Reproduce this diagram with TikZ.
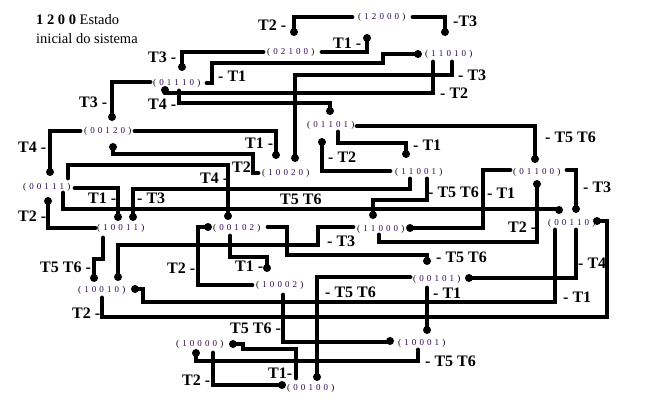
\documentclass[tikz,border=0pt]{standalone}
\usepackage{fontspec}
\setmainfont{Liberation Serif}
\definecolor{stc}{RGB}{45,10,85}
\newcommand{\stt}[5]{{\fontsize{9}{9}\selectfont (\hspace{3.1pt}\textcolor{stc}{#1}\hspace{3.1pt}\textcolor{stc}{#2}\hspace{3.1pt}\textcolor{stc}{#3}\hspace{3.1pt}\textcolor{stc}{#4}\hspace{3.1pt}\textcolor{stc}{#5}\hspace{3.1pt})}}
\begin{document}
\begin{tikzpicture}[x=1pt,y=-1pt,
  lab/.style={anchor=west,inner sep=0pt,font=\bfseries\fontsize{16}{16}\selectfont},
  st/.style={anchor=west,inner sep=0pt},
  ln/.style={line width=4.8pt,line cap=round,line join=miter},
  dt/.style={fill=black}]
\useasboundingbox (0,0) rectangle (656,414);
\fill[white] (0,0) rectangle (656,414);
% header
\node[anchor=west,inner sep=0pt,align=left,font=\fontsize{14.5}{18.5}\selectfont] (hdr) at (36,29) {\textbf{1 2 0 0} Estado\\inicial do sistema};
% states
\node[st] (s12000) at (358,17) {\stt12000};
\node[st] (s02100) at (267,52) {\stt02100};
\node[st] (s11010) at (425,54) {\stt11010};
\node[st] (s01110) at (153,83) {\stt01110};
\node[st] (s00120) at (84,131) {\stt00120};
\node[st] (s01101) at (307,125) {\stt01101};
\node[st] (s10020) at (262,173) {\stt10020};
\node[st] (s11001) at (395,172) {\stt11001};
\node[st] (s01100) at (513,172) {\stt01100};
\node[st] (s00111) at (23,187) {\stt00111};
\node[st] (s10011) at (97,228) {\stt10011};
\node[st] (s00102) at (213,228) {\stt00102};
\node[st] (s11000) at (357,229) {\stt11000};
\node[st] (s00110) at (548,223) {\stt00110};
\node[st] (s10010) at (78,290) {\stt10010};
\node[st] (s10002) at (256,285) {\stt10002};
\node[st] (s00101) at (413,279) {\stt00101};
\node[st] (s10001) at (398,343) {\stt10001};
\node[st] (s10000) at (176,344) {\stt10000};
\node[st] (s00100) at (287,388) {\stt00100};
% transition labels
\node[lab] (l1) at (258,25) {T2 -};
\node[lab] (l2) at (453,21) {-T3};
\node[lab] (l3) at (333,43) {T1 -};
\node[lab] (l4) at (148,57) {T3 -};
\node[lab] (l5) at (218,76) {- T1};
\node[lab] (l6) at (458,75) {- T3};
\node[lab] (l7) at (79,102) {T3 -};
\node[lab] (l8) at (148,104) {T4 -};
\node[lab] (l9) at (440,93) {- T2};
\node[lab] (l10) at (18,147) {T4 -};
\node[lab] (l11) at (245,143) {T1 -};
\node[lab] (l12) at (545,137) {- T5 T6};
\node[lab] (l13) at (413,145) {- T1};
\node[lab] (l14) at (328,157) {- T2};
\node[lab] (l15) at (232,167) {T2};
\node[lab] (l16) at (200,178) {T4 -};
\node[lab] (l17) at (280,199) {T5 T6};
\node[lab] (l18) at (88,198) {T1 -};
\node[lab] (l19) at (137,198) {- T3};
\node[lab] (l20) at (18,216) {T2 -};
\node[lab] (l21) at (428,192) {- T5 T6};
\node[lab] (l22) at (487,193) {- T1};
\node[lab] (l23) at (583,187) {- T3};
\node[lab] (l24) at (508,227) {T2 -};
\node[lab] (l25) at (327,241) {- T3};
\node[lab] (l26) at (436,257) {- T5 T6};
\node[lab] (l27) at (40,267) {T5 T6 -};
\node[lab] (l28) at (167,268) {T2 -};
\node[lab] (l29) at (235,266) {T1 -};
\node[lab] (l30) at (578,263) {- T4};
\node[lab] (l31) at (325,292) {- T5 T6};
\node[lab] (l32) at (433,293) {- T1};
\node[lab] (l33) at (563,297) {- T1};
\node[lab] (l34) at (72,313) {T2 -};
\node[lab] (l35) at (230,328) {T5 T6 -};
\node[lab] (l36) at (425,361) {- T5 T6};
\node[lab] (l37) at (268,373) {T1-};
\node[lab] (l38) at (182,380) {T2 -};
% connectors
\draw[ln] (352,17) -- (294,17) -- (294,32);  \fill[dt] (294,32) circle (4);
\draw[ln] (413,17) -- (445,17) -- (445,32);  \fill[dt] (445,32) circle (4);
\draw[ln] (322,52) -- (367,52) -- (367,38);  \fill[dt] (367,38) circle (4);
\draw[ln] (263,52) -- (182,52) -- (182,67);  \fill[dt] (182,67) circle (4);
\draw[ln] (207,83) -- (212,83) -- (212,63) -- (383,63) -- (383,54) -- (418,54); \fill[dt] (418,54) circle (4);
\draw[ln] (150,82) -- (112,82) -- (112,117); \fill[dt] (112,117) circle (4);
\draw[ln] (433,62) -- (433,93) -- (165,93);  \fill[dt] (165,90) circle (4);
\draw[ln] (179,91) -- (179,103) -- (330,103) -- (330,111); \fill[dt] (330,111) circle (4);
\draw[ln] (452,62) -- (452,75) -- (295,75) -- (295,158); \fill[dt] (295,158) circle (4);
\draw[ln] (135,131) -- (276,131) -- (276,155); \fill[dt] (276,155) circle (4);
\draw[ln] (80,131) -- (50,131) -- (50,172); \fill[dt] (50,172) circle (4);
\draw[ln] (258,173) -- (253,173) -- (253,154) -- (113,154) -- (113,147); \fill[dt] (113,147) circle (4);
\draw[ln] (357,126) -- (535,126) -- (535,159); \fill[dt] (535,159) circle (4);
\draw[ln] (338,132) -- (338,143) -- (406,143) -- (406,154); \fill[dt] (406,154) circle (4);
\draw[ln] (390,171) -- (322,171) -- (322,142); \fill[dt] (322,142) circle (4);
\draw[ln] (75,188) -- (118,188) -- (118,217); \fill[dt] (118,217) circle (4);
\draw[ln] (410,179) -- (410,189) -- (133,189) -- (133,217); \fill[dt] (133,217) circle (4);
\draw[ln] (63,193) -- (63,209) -- (559,209); \fill[dt] (559,210) circle (4);
\draw[ln] (95,228) -- (48,228) -- (48,201); \fill[dt] (48,201) circle (4);
\draw[ln] (68,178) -- (68,165) -- (228,165) -- (228,216); \fill[dt] (228,216) circle (4);
\draw[ln] (103,238) -- (103,259) -- (94,259) -- (94,278); \fill[dt] (94,278) circle (4);
\draw[ln] (353,227) -- (318,227) -- (318,245) -- (118,245) -- (118,277); \fill[dt] (118,277) circle (4);
\draw[ln] (268,227) -- (287,227) -- (287,255) -- (427,255) -- (427,260); \fill[dt] (427,261) circle (4);
\draw[ln] (230,236) -- (230,257) -- (267,257) -- (267,268); \fill[dt] (267,268) circle (4);
\draw[ln] (252,285) -- (198,285) -- (198,227) -- (208,227); \fill[dt] (208,227) circle (4);
\draw[ln] (427,179) -- (427,200) -- (373,200) -- (373,215); \fill[dt] (373,215) circle (4);
\draw[ln] (510,170) -- (483,170) -- (483,228) -- (410,228); \fill[dt] (410,228) circle (4);
\draw[ln] (379,235) -- (379,242) -- (537,242) -- (537,184); \fill[dt] (537,184) circle (4);
\draw[ln] (567,170) -- (576,170) -- (576,209); \fill[dt] (576,209) circle (4);
\draw[ln] (102,298) -- (102,317) -- (607,317) -- (607,221) -- (597,221); \fill[dt] (597,221) circle (4);
\draw[ln] (555,230) -- (555,302) -- (143,302) -- (143,289) -- (135,289); \fill[dt] (135,289) circle (4);
\draw[ln] (576,230) -- (576,278) -- (469,278); \fill[dt] (469,278) circle (4);
\draw[ln] (410,277) -- (317,277) -- (317,377); \fill[dt] (317,377) circle (4);
\draw[ln] (427,288) -- (427,330); \fill[dt] (427,330) circle (4);
\draw[ln] (283,295) -- (283,342) -- (390,342); \fill[dt] (390,341) circle (4);
\draw[ln] (296,378) -- (296,349) -- (243,349) -- (243,344) -- (233,344); \fill[dt] (233,344) circle (4);
\draw[ln] (418,350) -- (418,361) -- (196,361) -- (196,353); \fill[dt] (196,353) circle (4);
\draw[ln] (213,353) -- (213,385) -- (282,385); \fill[dt] (282,385) circle (4);
\end{tikzpicture}
\end{document}
